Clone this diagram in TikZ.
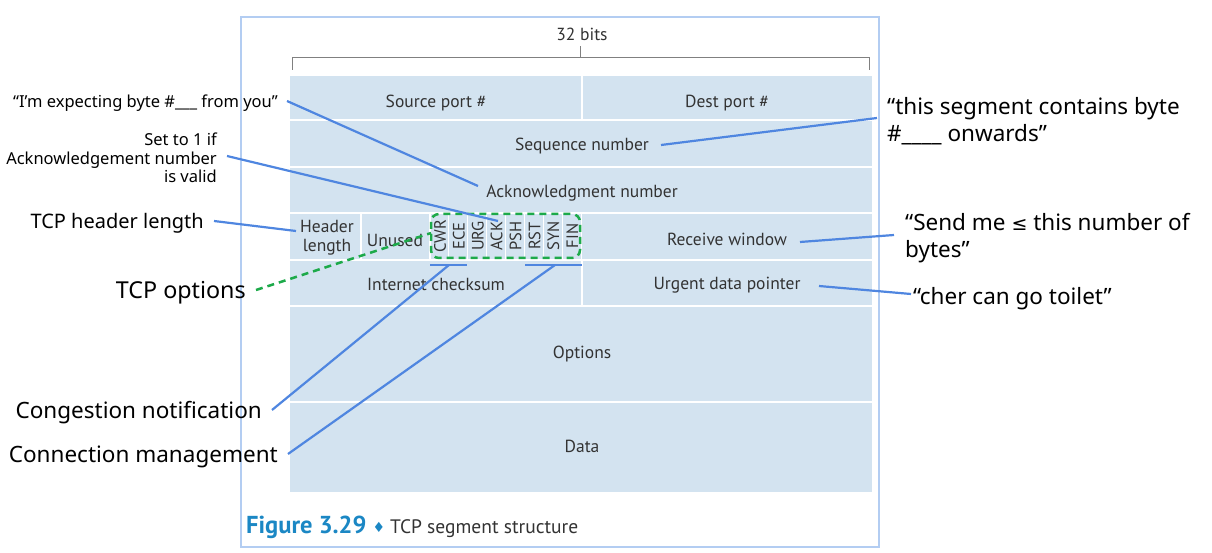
\documentclass[tikz,border=0pt]{standalone}
\usepackage{fontspec}
\setmainfont{Noto Sans}
\newfontfamily\tabfont{PT Sans}
\newfontfamily\symfont{DejaVu Sans}
\definecolor{cellblue}{HTML}{D3E3F0}
\definecolor{tabgray}{HTML}{333333}
\definecolor{lineblue}{HTML}{4F86E0}
\definecolor{dgreen}{HTML}{1DAA4A}
\definecolor{framec}{HTML}{B3CDF2}
\definecolor{capblue}{HTML}{1B87C4}
\begin{document}
\begin{tikzpicture}[x=1pt,y=-1pt,
  cellc/.style={fill=cellblue},
  tab/.style={font=\tabfont\fontsize{17.5}{19}\selectfont, text=tabgray, inner sep=0pt},
  flag/.style={tab, rotate=90, font=\tabfont\fontsize{16.5}{18}\selectfont},
  ann/.style={font=\fontsize{22.5}{26.5}\selectfont, inner sep=0pt},
  annsmall/.style={font=\fontsize{16.5}{18.5}\selectfont, inner sep=0pt},
  bl/.style={draw=lineblue, line width=2.2pt},
  gr/.style={draw=dgreen, line width=2.5pt, dash pattern=on 7pt off 5pt}]
\useasboundingbox (0,0) rectangle (1212,553);
\draw[framec, line width=1.8pt] (241,17) rectangle (879,547);
% bracket
\node[tab] (bits) at (582,34) {32 bits};
\draw[gray, line width=0.9pt] (292,70) -- (292,57) -- (869,57) -- (869,70);
\draw[gray, line width=0.9pt] (580,57) -- (580,46);
% cells
\fill[cellc] (290,76) rectangle (581,119);
\fill[cellc] (583,76) rectangle (872,119);
\fill[cellc] (290,121) rectangle (872,166);
\fill[cellc] (290,168) rectangle (872,212);
\fill[cellc] (290,214) rectangle (360,259);
\fill[cellc] (362,214) rectangle (429,259);
\foreach \i in {0,...,7}{
  \fill[cellc] ({430.5+18.9*\i},214) rectangle ({429.5+18.9*(\i+1)},259);
}
\fill[cellc] (582,214) rectangle (872,259);
\fill[cellc] (290,261) rectangle (581,305);
\fill[cellc] (583,261) rectangle (872,305);
\fill[cellc] (290,307) rectangle (872,401);
\fill[cellc] (290,403) rectangle (872,492);
% cell texts
\node[tab] (src) at (436,103) {Source port \#};
\node[tab] (dst) at (727,103) {Dest port \#};
\node[tab] (seq) at (582,146) {Sequence number};
\node[tab] (ack) at (582,193) {Acknowledgment number};
\node[tab, align=center, font=\tabfont\fontsize{17.5}{19}\selectfont] (hlen) at (327,238) {Header\\length};
\node[tab] (unused) at (395,240) {Unused};
\foreach \f [count=\k from 0] in {CWR,ECE,URG,ACK,PSH,RST,SYN,FIN}{
  \node[flag] (f\k) at ({440+18.9*\k},236) {\f};
}
\node[tab] (rwin) at (727,239) {Receive window};
\node[tab] (csum) at (436,284) {Internet checksum};
\node[tab] (urg) at (727,285) {Urgent data pointer};
\node[tab] (opt) at (582,354) {Options};
\node[tab] (data) at (582,446) {Data};
% green dashed box
\draw[gr, rounded corners=8pt] (431,214) rectangle (580,258);
% caption
\node[anchor=base west, inner sep=0pt] (cap) at (246,533) {\tabfont\fontsize{24.5}{28}\selectfont\bfseries\color{capblue}Figure 3.29\ \symfont\fontsize{14}{16}\selectfont\raisebox{1pt}{\char"2666}\ \color{tabgray}\tabfont\fontsize{19.5}{22}\selectfont\mdseries TCP segment structure};
% annotations
\node[annsmall, anchor=east] (expect) at (278,103) {“I’m expecting byte \#\_\_\_ from you”};
\node[annsmall, anchor=east, align=right] (set1) at (217,158) {Set to 1 if\\Acknowledgement number\\is valid};
\node[ann, anchor=east, font=\fontsize{20}{24}\selectfont] (thl) at (204,223) {TCP header length};
\node[ann, anchor=east, font=\fontsize{23.3}{26}\selectfont] (topt) at (246,293) {TCP options};
\node[ann, anchor=east] (cong) at (262,413) {Congestion notification};
\node[ann, anchor=east] (conn) at (278,457) {Connection management};
\node[ann, anchor=west, align=left] (segc) at (887,121) {“this segment contains byte\\\#\_\_\_\_ onwards”};
\node[ann, anchor=west, align=left] (sendme) at (905,238) {“Send me {\symfont\fontsize{19}{22}\selectfont ≤} this number of\\bytes”};
\node[ann, anchor=west] (cher) at (913,299) {“cher can go toilet”};
% connector endpoints
\coordinate (ackpt) at (478,186);
\coordinate (ackflag) at (498,221);
\coordinate (hlenpt) at (296,231);
\coordinate (seqpt) at (661,145);
\coordinate (rwinpt) at (800,242);
\coordinate (urgpt) at (819,286);
\coordinate (congpt) at (449,265);
\coordinate (connpt) at (555,265);
\coordinate (optpt) at (431,233);
% connectors
\draw[bl] ([xshift=9pt,yshift=2pt]expect.east) -- (ackpt);
\draw[bl] ([xshift=10pt,yshift=2pt]set1.east) -- (ackflag);
\draw[bl] ([xshift=10pt,yshift=2pt]thl.east) -- (hlenpt);
\draw[bl] ([xshift=-10pt,yshift=3pt]segc.west) -- (seqpt);
\draw[bl] ([xshift=-11pt,yshift=3pt]sendme.west) -- (rwinpt);
\draw[bl] ([xshift=-2pt,yshift=5pt]cher.west) -- (urgpt);
\draw[bl] (430,265) -- (467,265);
\draw[bl] (525,265) -- (582,265);
\draw[bl] ([xshift=10pt,yshift=3pt]cong.east) -- (congpt);
\draw[bl] ([xshift=10pt,yshift=3pt]conn.east) -- (connpt);
\draw[gr] ([xshift=10pt,yshift=3pt]topt.east) -- (optpt);
\end{tikzpicture}
\end{document}
